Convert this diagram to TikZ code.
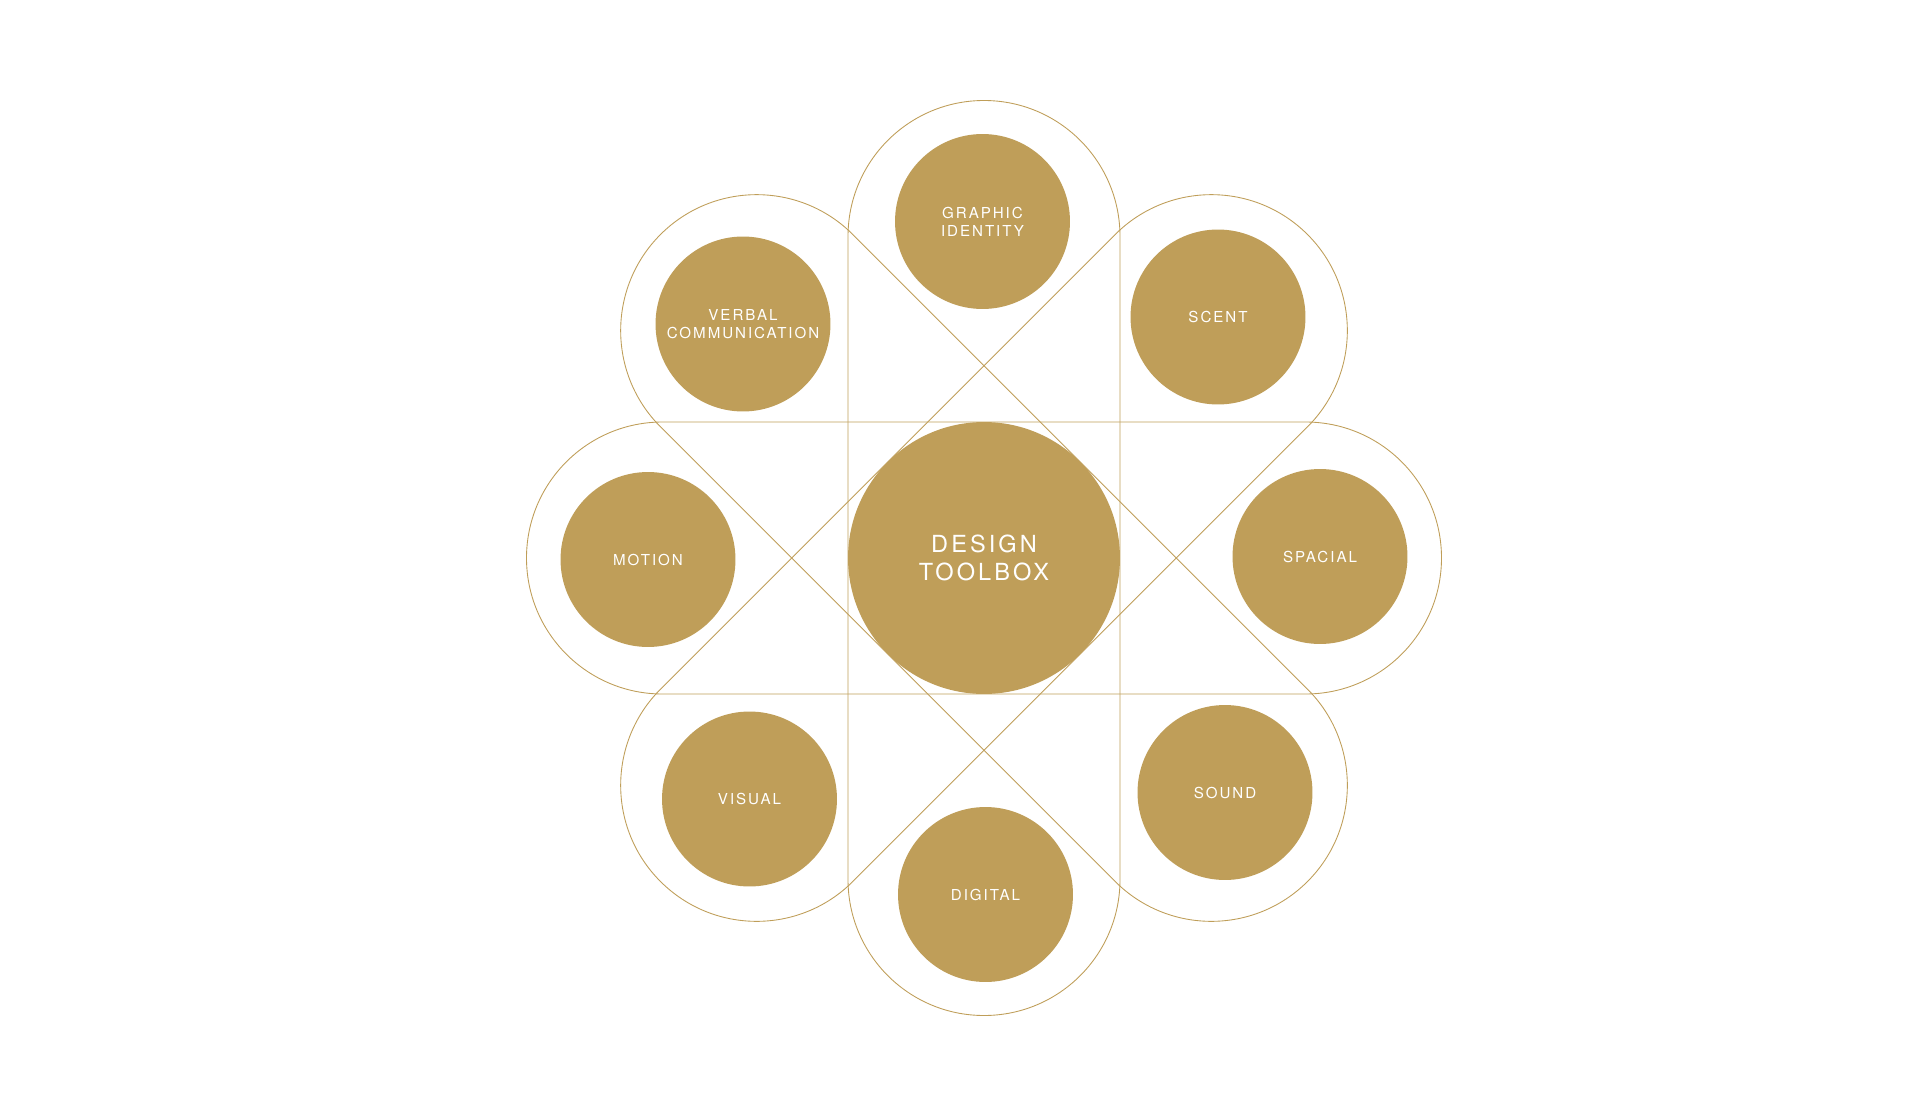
\documentclass[tikz,border=0pt]{standalone}
\usepackage{fontspec}
\setmainfont{TeX Gyre Heros}[LetterSpace=13]
\definecolor{toolgold}{RGB}{191,158,89}

\begin{document}
\begin{tikzpicture}[x=0.02cm,y=-0.02cm,
    ring/.style={draw=toolgold, line width=0.5pt},
    topic/.style={circle, fill=toolgold, minimum size=3.5cm, inner sep=0pt,
        text=white, align=center, font=\fontsize{8.6}{10.4}\selectfont},
    hub/.style={circle, fill=toolgold, minimum size=5.44cm, inner sep=0pt,
        text=white, align=center, font=\fontsize{13.4}{16}\selectfont}]
    \useasboundingbox (0,0) rectangle (1921,1119);
    \coordinate (c) at (984,558);
    % four stadiums round the hub
    \foreach \a in {0,45,90,135} {
        \begin{scope}[shift={(c)}, rotate=\a]
            \draw[ring] (-321.5,-136) -- (321.5,-136)
                arc[start angle=-90, end angle=90, radius=136]
                -- (-321.5,136)
                arc[start angle=90, end angle=270, radius=136] -- cycle;
        \end{scope}
    }
    \node[hub] (toolbox) at (c) {DESIGN\\TOOLBOX};
    \node[topic] (graphic) at (982.5,221.5) {GRAPHIC\\IDENTITY};
    \node[topic] (scent) at (1218,317) {SCENT};
    \node[topic] (spacial) at (1320,556.5) {SPACIAL};
    \node[topic] (sound) at (1225,792.5) {SOUND};
    \node[topic] (digital) at (985.5,894.5) {DIGITAL};
    \node[topic] (visual) at (749.5,799) {VISUAL};
    \node[topic] (motion) at (648,559.5) {MOTION};
    \node[topic] (verbal) at (743,324) {VERBAL\\COMMUNICATION};
\end{tikzpicture}
\end{document}
